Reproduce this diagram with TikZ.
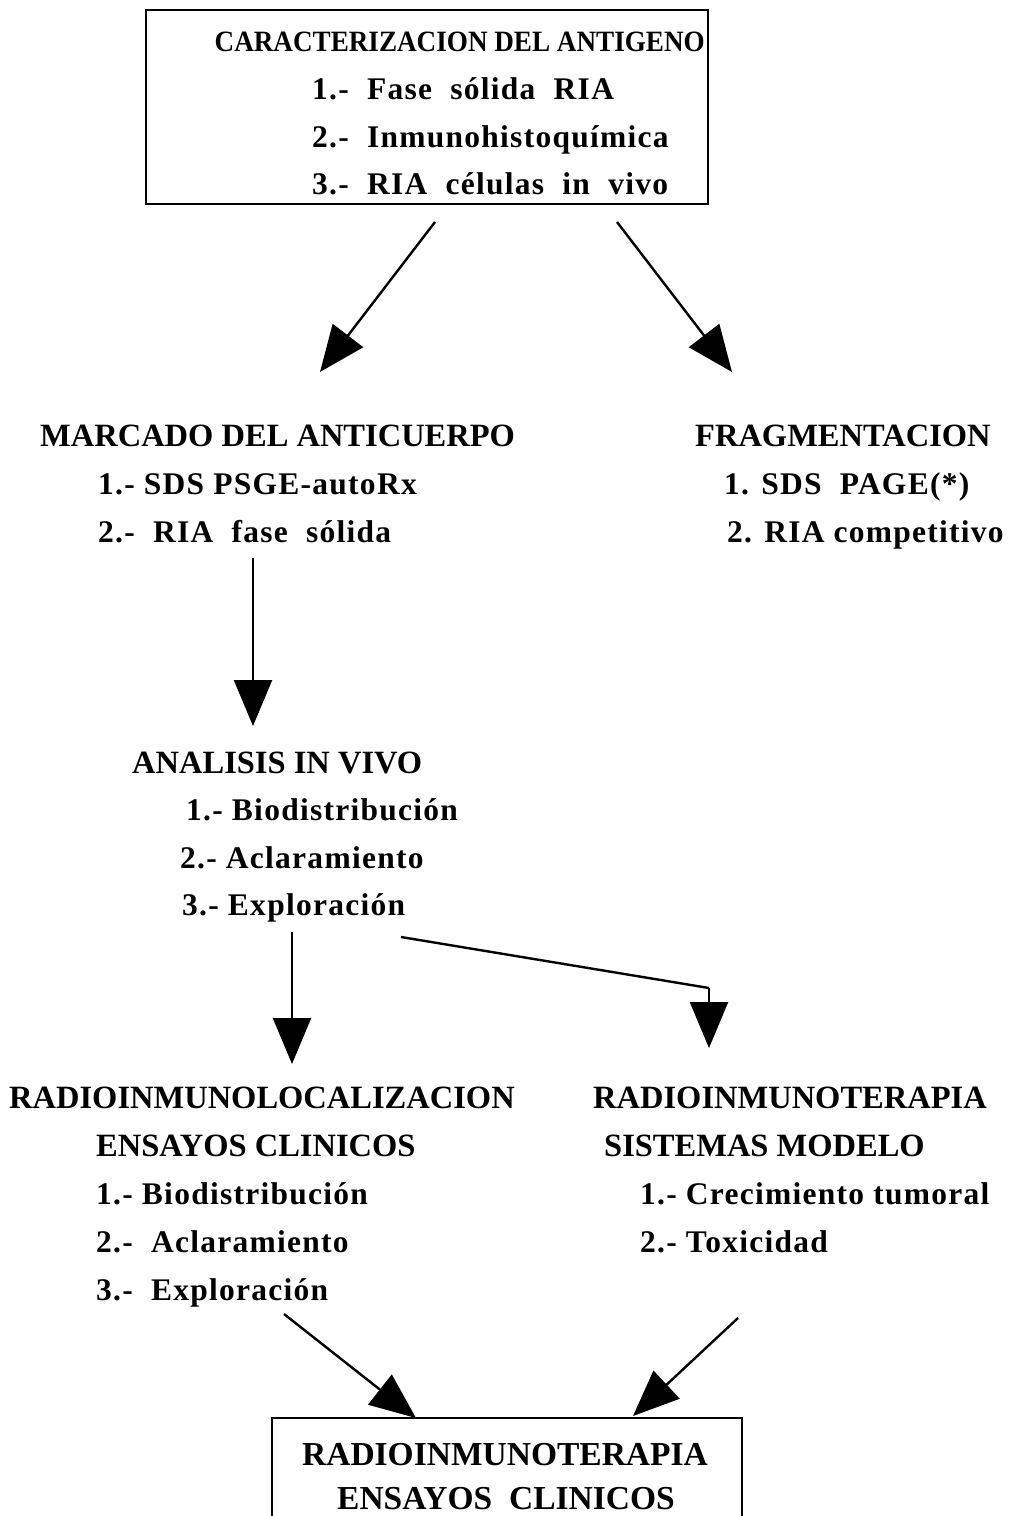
\documentclass[tikz,border=0pt]{standalone}
\usepackage{fontspec}
\setmainfont{Liberation Serif}
\usetikzlibrary{arrows.meta,positioning}

\begin{document}
\begin{tikzpicture}[
    x=1pt, y=-1pt,
    >={Triangle[length=46pt,width=38pt]},
    heading/.style={
      anchor=base west,
      inner sep=0pt,
      font=\fontsize{32.5}{38}\selectfont\bfseries
    },
    item/.style={
      anchor=base west,
      inner sep=0pt,
      font=\fontsize{31.5}{38}\selectfont\bfseries\addfontfeatures{LetterSpace=4}
    },
    frame/.style={
      rectangle,
      draw,
      line width=2.6pt,
      inner sep=0pt
    },
  ]

  \useasboundingbox (0,0) rectangle (1012,1516);

  %%%%%%%%%%%%%%%%%%%%%%%%%%%%%%%%%%%%%%%%%%%%%%
  %%%%%%%%%%%%%%%% ACTUAL NODES %%%%%%%%%%%%%%%%%%%
  %%%%%%%%%%%%%%%%%%%%%%%%%%%%%%%%%%%%%%%%%%%%%%
    \node[frame, minimum width=562pt, minimum height=194pt] (antigeno-box) at (427,107) {};
    \node[heading, anchor=base east, font=\fontsize{29.5}{38}\selectfont\bfseries\addfontfeatures{FakeStretch=0.92}] (antigeno) at (705,51) {CARACTERIZACION DEL ANTIGENO};
    \node[item] (antigeno-1) at (312,99) {1.-\ \ Fase\ \ sólida\ \ RIA};
    \node[item] (antigeno-2) at (312,147) {2.-\ \ Inmunohistoquímica};
    \node[item] (antigeno-3) at (312,194) {3.-\ \ RIA\ \ células\ \ in\ \ vivo};

    \node[heading] (marcado) at (40,446) {MARCADO DEL ANTICUERPO};
    \node[item] (marcado-1) at (98,494) {1.- SDS PSGE-autoRx};
    \node[item] (marcado-2) at (98,542) {2.-\ \ RIA\ \ fase\ \ sólida};

    \node[heading] (fragmentacion) at (695,446) {FRAGMENTACION};
    \node[item] (fragmentacion-1) at (724,494) {1. SDS\ \ PAGE(*)};
    \node[item] (fragmentacion-2) at (727,542) {2. RIA competitivo};

    \node[heading] (analisis) at (132,773) {ANALISIS IN VIVO};
    \node[item] (analisis-1) at (186,820) {1.- Biodistribución};
    \node[item] (analisis-2) at (180,868) {2.- Aclaramiento};
    \node[item] (analisis-3) at (182,915) {3.- Exploración};

    \node[heading] (localizacion) at (9,1108) {RADIOINMUNOLOCALIZACION};
    \node[heading] (localizacion-0) at (96,1156) {ENSAYOS CLINICOS};
    \node[item] (localizacion-1) at (96,1204) {1.- Biodistribución};
    \node[item] (localizacion-2) at (96,1252) {2.-\ \ Aclaramiento};
    \node[item] (localizacion-3) at (96,1300) {3.-\ \ Exploración};

    \node[heading] (terapia) at (593,1108) {RADIOINMUNOTERAPIA};
    \node[heading] (terapia-0) at (604,1156) {SISTEMAS MODELO};
    \node[item] (terapia-1) at (640,1204) {1.- Crecimiento tumoral};
    \node[item] (terapia-2) at (640,1252) {2.- Toxicidad};

    \node[frame, minimum width=470pt, minimum height=140pt] (ensayos-box) at (507,1488) {};
    \node[heading, anchor=base, font=\fontsize{33.5}{38}\selectfont\bfseries] (ensayos) at (505,1465) {RADIOINMUNOTERAPIA};
    \node[heading, anchor=base, font=\fontsize{33.5}{38}\selectfont\bfseries] (ensayos-0) at (506,1509) {ENSAYOS\ \ CLINICOS};

  %%%%%%%%%%%%%%%%%%%%%%%%%%%%%%%%%%%%%%%%%%%%%%
  %%%%%%%%%%%%%%%% HELPING NODES %%%%%%%%%%%%%%%%%%%
  %%%%%%%%%%%%%%%%%%%%%%%%%%%%%%%%%%%%%%%%%%%%%%
    \coordinate (antigeno-marcado) at (435,222);
    \coordinate (marcado-antigeno) at (320,372);
    \coordinate (antigeno-fragmentacion) at (617,222);
    \coordinate (fragmentacion-antigeno) at (732,372);

    \coordinate (marcado-analisis) at (253,558);
    \coordinate (analisis-marcado) at (253,726);

    \coordinate (analisis-localizacion) at (292,932);
    \coordinate (localizacion-analisis) at (292,1064);
    \coordinate (analisis-terapia) at (401,937);
    \coordinate (analisis-terapia-terapia) at (709,988);
    \coordinate (terapia-analisis) at (709,1048);

    \coordinate (localizacion-ensayos) at (284,1314);
    \coordinate (ensayos-localizacion) at (416,1418);
    \coordinate (terapia-ensayos) at (738,1318);
    \coordinate (ensayos-terapia) at (633,1416);

  %%%%%%%%%%%%%%%%%%%%%%%%%%%%%%%%%%%%%%%%%%%%%%
  %%%%%%%%%%%%%%%%%% PATHS %%%%%%%%%%%%%%%%%%%%%%%
  %%%%%%%%%%%%%%%%%%%%%%%%%%%%%%%%%%%%%%%%%%%%%%
    \path [->, draw, line width=2.4pt] (antigeno-marcado) -- (marcado-antigeno);
    \path [->, draw, line width=2.4pt] (antigeno-fragmentacion) -- (fragmentacion-antigeno);

    \path [->, draw, line width=2.4pt] (marcado-analisis) -- (analisis-marcado);

    \path [->, draw, line width=2.4pt] (analisis-localizacion) -- (localizacion-analisis);
    \path [-, draw, line width=2.4pt] (analisis-terapia) -- (analisis-terapia-terapia);
    \path [->, draw, line width=2.4pt] (analisis-terapia-terapia) -- (terapia-analisis);

    \path [->, draw, line width=2.4pt] (localizacion-ensayos) -- (ensayos-localizacion);
    \path [->, draw, line width=2.4pt] (terapia-ensayos) -- (ensayos-terapia);

\end{tikzpicture}
\end{document}
